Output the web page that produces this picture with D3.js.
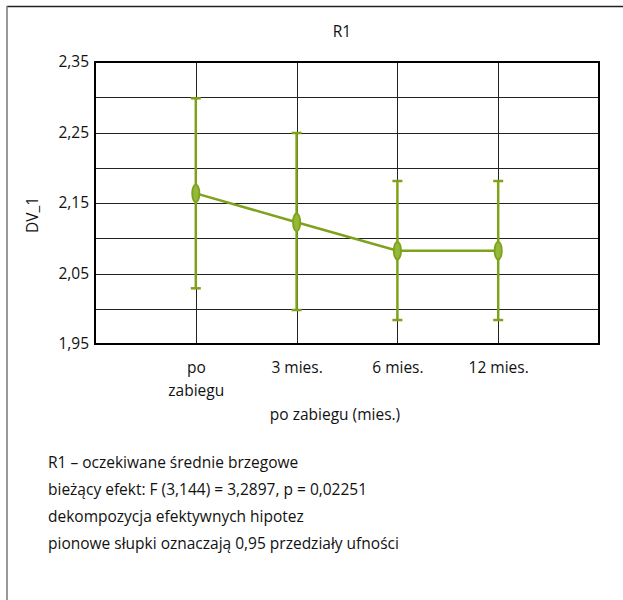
<!DOCTYPE html>
<html>
<head>
<meta charset="utf-8">
<script src="https://cdn.jsdelivr.net/npm/d3@7"></script>
<style>
  html, body { margin: 0; padding: 0; background: #fff; }
  svg text { font-family: "Open Sans", sans-serif; fill: #111; }
</style>
</head>
<body>
<svg id="chart" width="623" height="600"></svg>
<script>
const categories = ["po\nzabiegu", "3 mies.", "6 mies.", "12 mies."];
const means = [2.1637, 2.1226, 2.0824, 2.0824];
const upper = [2.2985, 2.2493, 2.1812, 2.1812];
const lower = [2.0290, 1.9982, 1.9840, 1.9840];
const yTicks = [1.95, 2.05, 2.15, 2.25, 2.35];
const yGrid = [2.00, 2.10, 2.20, 2.30];
const title = "R1";
const yLabel = "DV_1";
const xLabel = "po zabiegu (mies.)";
const notes = [
  "R1 \u2013 oczekiwane \u015brednie brzegowe",
  "bie\u017c\u0105cy efekt: F (3,144) = 3,2897, p = 0,02251",
  "dekompozycja efektywnych hipotez",
  "pionowe s\u0142upki oznaczaj\u0105 0,95 przedzia\u0142y ufno\u015bci"
];

const svg = d3.select("#chart");
const green = "#7fa21c";
const FS = "15.5px";
const L = 95, R = 599, T = 62, B = 344;

// outer frame (top and left edges)
svg.append("line").attr("x1", 7).attr("x2", 623).attr("y1", 6.5).attr("y2", 6.5)
  .attr("stroke", "#222").attr("stroke-width", 1.5);
svg.append("line").attr("x1", 7).attr("x2", 7).attr("y1", 6).attr("y2", 600)
  .attr("stroke", "#777").attr("stroke-width", 1.5);

const x = d3.scaleLinear().domain([0, categories.length + 1]).range([L, R]);
const y = d3.scaleLinear().domain([1.95, 2.35]).range([B, T]);

const g = svg.append("g");

// horizontal gridlines
g.selectAll("line.hg").data(yTicks.concat(yGrid)).join("line")
  .attr("x1", L).attr("x2", R)
  .attr("y1", d => Math.round(y(d)) + 0.5).attr("y2", d => Math.round(y(d)) + 0.5)
  .attr("stroke", "#222").attr("stroke-width", 1);

// vertical gridlines at categories
g.selectAll("line.vg").data(categories).join("line")
  .attr("x1", (d, i) => Math.round(x(i + 1)) + 0.5).attr("x2", (d, i) => Math.round(x(i + 1)) + 0.5)
  .attr("y1", T).attr("y2", B)
  .attr("stroke", "#222").attr("stroke-width", 1);

// plot border
g.append("rect").attr("x", L).attr("y", T).attr("width", R - L).attr("height", B - T)
  .attr("fill", "none").attr("stroke", "#000").attr("stroke-width", 2);

// y axis labels
const yAxis = d3.axisLeft(y).tickValues(yTicks).tickSize(0).tickPadding(6)
  .tickFormat(d => d3.format(".2f")(d).replace(".", ","));
svg.append("g").attr("transform", `translate(${L},0)`).call(yAxis)
  .call(s => s.select(".domain").remove())
  .selectAll("text").style("font-size", FS).style("font-family", "Open Sans, sans-serif").attr("fill", "#111");

// x axis labels
const xAxis = d3.axisBottom(x).tickValues(categories.map((d, i) => i + 1)).tickSize(0).tickFormat("");
const xg = svg.append("g").attr("transform", `translate(0,${B})`).call(xAxis);
xg.select(".domain").remove();
xg.selectAll(".tick").each(function(d, i) {
  const lines = categories[i].split("\n");
  const t = d3.select(this).append("text").attr("text-anchor", "middle")
    .style("font-size", FS).attr("fill", "#111");
  lines.forEach((ln, k) => t.append("tspan").attr("x", 0).attr("y", 29 + k * 23).text(ln));
});

// title and axis labels
svg.append("text").attr("x", 342).attr("y", 37).attr("text-anchor", "middle")
  .style("font-size", FS).text(title);
svg.append("text").attr("transform", `translate(38,${(T + B) / 2 + 12}) rotate(-90)`)
  .attr("text-anchor", "middle").style("font-size", FS).text(yLabel);
svg.append("text").attr("x", 335).attr("y", 420).attr("text-anchor", "middle")
  .style("font-size", FS).text(xLabel);

// error bars
const eb = g.selectAll("g.eb").data(means).join("g");
eb.append("line")
  .attr("x1", (d, i) => x(i + 1)).attr("x2", (d, i) => x(i + 1))
  .attr("y1", (d, i) => y(upper[i])).attr("y2", (d, i) => y(lower[i]))
  .attr("stroke", green).attr("stroke-width", 2.5);
eb.append("line")
  .attr("x1", (d, i) => x(i + 1) - 5).attr("x2", (d, i) => x(i + 1) + 5)
  .attr("y1", (d, i) => y(upper[i])).attr("y2", (d, i) => y(upper[i]))
  .attr("stroke", green).attr("stroke-width", 2.5);
eb.append("line")
  .attr("x1", (d, i) => x(i + 1) - 5).attr("x2", (d, i) => x(i + 1) + 5)
  .attr("y1", (d, i) => y(lower[i])).attr("y2", (d, i) => y(lower[i]))
  .attr("stroke", green).attr("stroke-width", 2.5);

// mean line
const line = d3.line().x((d, i) => x(i + 1)).y(d => y(d));
g.append("path").datum(means).attr("d", line)
  .attr("fill", "none").attr("stroke", green).attr("stroke-width", 2.5);

// markers
g.selectAll("ellipse").data(means).join("ellipse")
  .attr("cx", (d, i) => x(i + 1)).attr("cy", d => y(d))
  .attr("rx", 3.6).attr("ry", 8.8)
  .attr("fill", "#93b83a").attr("stroke", green).attr("stroke-width", 1.8);

// notes
svg.append("g").selectAll("text").data(notes).join("text")
  .attr("x", 48).attr("y", (d, i) => 468 + i * 27)
  .style("font-size", FS).text(d => d);
</script>
</body>
</html>
